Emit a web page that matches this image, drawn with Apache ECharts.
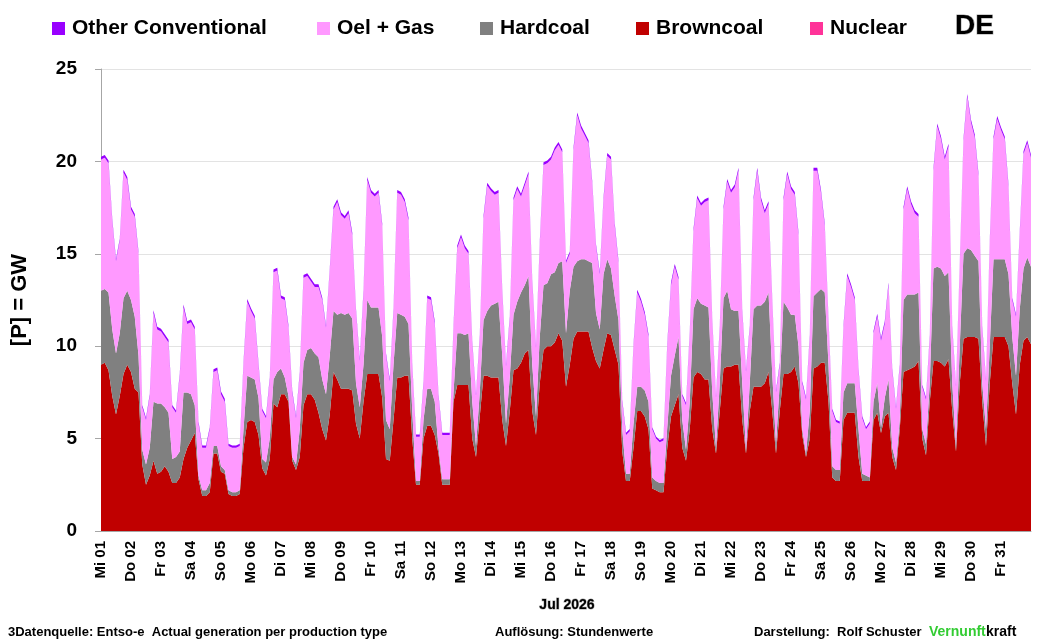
<!DOCTYPE html>
<html>
<head>
<meta charset="utf-8">
<script src="https://cdn.jsdelivr.net/npm/echarts@6/dist/echarts.min.js"></script>
<style>
  html, body { margin: 0; padding: 0; background: #fff; }
  #chart { width: 1046px; height: 640px; }
</style>
</head>
<body>
<div id="chart"></div>
<script>
// Stromerzeugung DE, Juli 2026 - Werte alle 3 Stunden (letzter Wert 31.07. 23:00), GW
const dayLabels = ['Mi 01','Do 02','Fr 03','Sa 04','So 05','Mo 06','Di 07','Mi 08','Do 09','Fr 10',
  'Sa 11','So 12','Mo 13','Di 14','Mi 15','Do 16','Fr 17','Sa 18','So 19','Mo 20','Di 21',
  'Mi 22','Do 23','Fr 24','Sa 25','So 26','Mo 27','Di 28','Mi 29','Do 30','Fr 31'];
const yTicks = [0, 5, 10, 15, 20, 25];
const stepsPerDay = 8;

const brownCoal = [
  9.0, 9.1, 8.7, 7.3, 6.3, 7.3, 8.5, 9.0,
  8.6, 7.7, 7.5, 3.6, 2.5, 3.0, 3.8, 3.1,
  3.2, 3.5, 3.2, 2.6, 2.6, 2.9, 3.9, 4.5,
  4.9, 5.3, 2.8, 1.9, 1.9, 2.1, 4.2, 4.2,
  3.2, 3.1, 2.0, 1.9, 1.9, 2.0, 4.5, 5.9,
  6.0, 5.9, 5.2, 3.4, 3.0, 3.9, 6.9, 6.7,
  7.4, 7.4, 7.0, 3.8, 3.3, 4.0, 6.8, 7.4,
  7.4, 7.1, 6.4, 5.5, 4.9, 6.3, 8.6, 8.2,
  7.7, 7.7, 7.7, 7.6, 5.8, 5.0, 7.0, 8.5,
  8.5, 8.5, 8.5, 7.2, 3.9, 3.8, 6.0, 8.3,
  8.3, 8.4, 8.4, 5.0, 2.5, 2.5, 5.0, 5.7,
  5.7, 5.2, 4.2, 2.5, 2.5, 2.5, 7.0, 7.9,
  7.9, 7.9, 7.9, 5.0, 4.0, 6.2, 8.4, 8.4,
  8.3, 8.3, 8.3, 6.0, 4.6, 6.5, 8.7, 8.8,
  9.1, 9.6, 9.8, 6.5, 5.2, 8.0, 9.8, 10.0,
  10.0, 10.2, 10.7, 10.3, 7.8, 9.0, 10.4, 10.8,
  10.8, 10.8, 10.8, 9.9, 9.2, 8.8, 9.8, 10.7,
  10.6, 9.8, 9.0, 4.3, 2.7, 2.7, 4.5, 6.5,
  6.5, 6.2, 5.5, 2.3, 2.2, 2.1, 2.1, 4.5,
  6.2, 6.8, 7.4, 4.5, 3.8, 5.5, 8.3, 8.6,
  8.5, 8.2, 8.2, 5.5, 4.2, 6.5, 8.8, 8.9,
  8.9, 9.0, 9.0, 6.0, 4.2, 6.5, 7.8, 7.8,
  7.8, 8.0, 8.6, 6.5, 4.2, 6.5, 8.5, 8.5,
  8.6, 8.9, 8.0, 5.2, 4.0, 5.0, 8.8, 8.9,
  9.1, 9.1, 7.0, 2.9, 2.7, 2.7, 6.0, 6.4,
  6.4, 6.4, 4.0, 2.7, 2.7, 2.7, 6.0, 6.4,
  5.3, 6.2, 6.4, 4.0, 3.3, 5.5, 8.6, 8.7,
  8.8, 8.9, 9.2, 5.0, 4.1, 7.0, 9.2, 9.2,
  9.1, 8.9, 9.3, 6.5, 4.3, 8.0, 10.4, 10.5,
  10.5, 10.5, 10.4, 7.0, 4.6, 8.0, 10.5, 10.5,
  10.5, 10.5, 10.0, 8.0, 6.3, 9.0, 10.3, 10.5, 10.1
];

const hardCoal = [
  4.0, 4.0, 4.2, 3.6, 3.3, 3.4, 4.1, 4.0,
  3.9, 3.9, 2.0, 0.8, 1.1, 1.5, 3.2, 3.8,
  3.7, 3.2, 3.2, 1.3, 1.4, 1.4, 3.6, 3.0,
  2.5, 1.5, 0.2, 0.3, 0.3, 0.5, 0.4, 0.4,
  0.3, 0.2, 0.2, 0.2, 0.2, 0.2, 1.0, 2.5,
  2.3, 2.3, 2.0, 0.5, 0.7, 1.1, 1.3, 1.9,
  1.4, 0.9, 0.3, 0.2, 0.3, 1.5, 2.3, 2.4,
  2.5, 2.5, 3.0, 2.7, 2.5, 3.2, 3.3, 3.5,
  4.1, 4.0, 4.1, 3.9, 2.2, 1.7, 2.0, 4.0,
  3.6, 3.6, 3.6, 3.3, 2.1, 1.7, 3.0, 3.5,
  3.4, 3.2, 2.8, 1.5, 0.2, 0.2, 1.0, 2.0,
  2.0, 1.8, 0.3, 0.3, 0.3, 0.3, 0.5, 2.8,
  2.8, 2.7, 2.8, 2.0, 0.6, 1.3, 3.0, 3.5,
  3.9, 4.0, 4.1, 3.5, 1.2, 1.8, 3.0, 3.6,
  3.8, 3.7, 4.0, 2.5, 1.0, 2.5, 3.5, 3.4,
  3.9, 3.8, 3.8, 4.3, 2.9, 4.0, 3.9, 3.8,
  3.9, 3.9, 3.8, 4.6, 2.6, 2.1, 4.1, 4.0,
  3.6, 2.9, 2.4, 1.2, 0.4, 0.4, 1.3, 1.3,
  1.3, 1.4, 1.5, 0.6, 0.5, 0.5, 0.5, 1.1,
  2.2, 2.7, 3.1, 1.5, 0.6, 1.5, 3.7, 4.0,
  3.8, 4.0, 3.9, 2.0, 0.3, 1.5, 3.8, 4.1,
  3.1, 2.9, 2.9, 2.0, 0.2, 1.5, 4.2, 4.4,
  4.4, 4.4, 4.3, 2.0, 0.5, 1.5, 3.9, 3.6,
  3.1, 2.8, 2.0, 0.3, 0.2, 1.5, 3.9, 4.0,
  4.0, 3.8, 2.0, 0.6, 0.6, 0.6, 1.5, 1.6,
  1.6, 1.6, 1.5, 0.4, 0.3, 0.2, 1.0, 1.6,
  0.3, 1.0, 1.8, 0.5, 0.4, 0.5, 3.9, 4.1,
  4.0, 3.9, 3.7, 0.5, 0.6, 1.0, 5.0, 5.1,
  5.1, 4.9, 4.7, 1.5, 0.3, 2.0, 4.6, 4.8,
  4.7, 4.4, 4.2, 1.0, 0.9, 2.0, 4.2, 4.2,
  4.2, 4.2, 3.9, 2.5, 2.1, 3.0, 3.9, 4.3, 4.2
];

const oilGas = [
  7.1, 7.1, 7.0, 5.9, 5.0, 5.0, 6.8, 6.0,
  4.9, 5.4, 5.5, 2.3, 2.4, 2.8, 4.8, 4.0,
  3.9, 3.8, 3.8, 2.8, 2.4, 4.1, 4.6, 3.7,
  3.9, 4.1, 2.8, 2.3, 2.3, 2.9, 4.0, 4.1,
  3.9, 3.7, 2.4, 2.4, 2.4, 2.4, 3.5, 4.0,
  3.6, 3.3, 1.8, 2.6, 2.4, 3.2, 5.8, 5.5,
  3.8, 4.2, 3.7, 3.5, 2.5, 3.0, 4.6, 4.0,
  3.6, 3.6, 3.8, 4.3, 3.6, 4.6, 5.5, 6.1,
  5.3, 5.2, 5.4, 4.5, 3.9, 2.5, 3.9, 6.5,
  6.2, 6.0, 6.2, 6.0, 3.5, 2.6, 2.9, 6.5,
  6.5, 6.2, 5.6, 2.5, 2.4, 2.4, 2.0, 4.9,
  4.8, 4.2, 2.8, 2.4, 2.4, 2.4, 3.5, 4.6,
  5.2, 4.7, 4.3, 3.2, 2.7, 3.0, 5.5, 6.8,
  6.2, 5.9, 5.9, 3.5, 3.1, 3.2, 6.2, 6.1,
  5.2, 5.4, 5.5, 4.5, 3.7, 5.0, 6.5, 6.5,
  6.2, 6.6, 6.4, 5.9, 3.8, 2.0, 6.3, 7.9,
  7.1, 6.7, 6.4, 4.3, 3.6, 3.0, 4.0, 5.6,
  5.9, 3.8, 3.1, 1.5, 2.1, 2.3, 4.2, 5.1,
  4.6, 4.1, 3.5, 2.6, 2.3, 2.2, 2.3, 4.4,
  4.9, 4.8, 3.1, 1.3, 2.4, 3.7, 4.2, 5.4,
  5.3, 5.6, 5.8, 3.9, 2.7, 3.0, 4.8, 5.9,
  6.3, 6.7, 7.6, 3.9, 4.2, 3.0, 5.9, 7.3,
  5.7, 4.8, 4.8, 4.0, 2.8, 1.0, 5.5, 7.2,
  6.8, 6.5, 6.0, 2.5, 2.9, 4.0, 6.8, 6.6,
  5.2, 3.6, 2.4, 3.0, 2.6, 2.5, 3.5, 5.8,
  5.2, 4.5, 3.2, 3.0, 2.5, 2.9, 3.7, 3.6,
  4.7, 4.0, 5.1, 4.2, 2.9, 2.9, 4.9, 5.7,
  4.9, 4.4, 4.1, 2.3, 2.4, 2.5, 5.3, 7.6,
  7.0, 6.3, 6.8, 3.0, 3.2, 4.4, 6.1, 8.2,
  6.9, 6.4, 4.6, 3.0, 2.6, 5.6, 6.5, 7.6,
  7.0, 6.5, 4.7, 2.0, 3.2, 4.1, 6.2, 6.2, 5.9
];

const otherConv = [
  0.15, 0.15, 0.15, 0.12, 0.12, 0.12, 0.15, 0.15,
  0.15, 0.15, 0.12, 0.12, 0.12, 0.12, 0.15, 0.15,
  0.15, 0.15, 0.15, 0.12, 0.12, 0.12, 0.15, 0.15,
  0.15, 0.15, 0.12, 0.12, 0.12, 0.12, 0.15, 0.15,
  0.15, 0.15, 0.12, 0.12, 0.12, 0.12, 0.15, 0.15,
  0.15, 0.15, 0.12, 0.12, 0.12, 0.12, 0.15, 0.15,
  0.15, 0.15, 0.12, 0.12, 0.12, 0.12, 0.15, 0.15,
  0.15, 0.15, 0.15, 0.12, 0.12, 0.12, 0.15, 0.15,
  0.15, 0.15, 0.15, 0.15, 0.12, 0.12, 0.15, 0.15,
  0.15, 0.15, 0.15, 0.12, 0.12, 0.12, 0.15, 0.15,
  0.15, 0.15, 0.15, 0.12, 0.12, 0.12, 0.12, 0.15,
  0.15, 0.15, 0.12, 0.12, 0.12, 0.12, 0.15, 0.15,
  0.15, 0.15, 0.15, 0.12, 0.12, 0.12, 0.15, 0.15,
  0.15, 0.15, 0.15, 0.12, 0.12, 0.12, 0.15, 0.15,
  0.15, 0.15, 0.15, 0.12, 0.12, 0.15, 0.15, 0.15,
  0.15, 0.15, 0.15, 0.15, 0.12, 0.12, 0.15, 0.15,
  0.15, 0.15, 0.15, 0.12, 0.12, 0.12, 0.15, 0.15,
  0.15, 0.15, 0.12, 0.12, 0.12, 0.12, 0.12, 0.15,
  0.15, 0.15, 0.15, 0.12, 0.12, 0.12, 0.12, 0.15,
  0.15, 0.15, 0.15, 0.12, 0.12, 0.12, 0.15, 0.15,
  0.15, 0.15, 0.15, 0.12, 0.12, 0.12, 0.15, 0.15,
  0.15, 0.15, 0.15, 0.12, 0.12, 0.12, 0.15, 0.15,
  0.15, 0.15, 0.15, 0.12, 0.12, 0.12, 0.15, 0.15,
  0.15, 0.15, 0.15, 0.12, 0.12, 0.12, 0.15, 0.15,
  0.15, 0.15, 0.12, 0.12, 0.12, 0.12, 0.15, 0.15,
  0.15, 0.15, 0.12, 0.12, 0.12, 0.12, 0.12, 0.15,
  0.15, 0.15, 0.15, 0.12, 0.12, 0.12, 0.15, 0.15,
  0.15, 0.15, 0.15, 0.12, 0.12, 0.12, 0.15, 0.15,
  0.15, 0.15, 0.15, 0.12, 0.12, 0.12, 0.15, 0.15,
  0.15, 0.15, 0.15, 0.12, 0.12, 0.15, 0.15, 0.15,
  0.15, 0.15, 0.15, 0.12, 0.12, 0.15, 0.15, 0.15, 0.15
];

const nuclear = [];

// eine Kategorie je Messwert (3h-Raster)
const steps = brownCoal.map((v, i) => String(i));

const colors = {
  other: '#9900ff',
  gas: '#ff99ff',
  hard: '#808080',
  brown: '#c00000',
  nuclear: '#ff3399'
};
const font = '"Liberation Sans", Arial, sans-serif';

const chart = echarts.init(document.getElementById('chart'), null, { renderer: 'canvas' });

function area(name, data, color) {
  return {
    name: name,
    type: 'line',
    stack: 'p',
    data: data,
    symbol: 'none',
    showSymbol: false,
    color: color,
    lineStyle: { width: 0, color: color },
    areaStyle: { color: color, opacity: 1 },
    emphasis: { disabled: true },
    animation: false
  };
}

// jede Legende einzeln platziert, wie im Original
const legendItems = [
  ['Other Conventional', 47],
  ['Oel + Gas', 312],
  ['Hardcoal', 475],
  ['Browncoal', 631],
  ['Nuclear', 805]
];

const option = {
  animation: false,
  backgroundColor: '#fff',
  textStyle: { fontFamily: font },
  legend: legendItems.map(([name, left]) => ({
    data: [name],
    left: left,
    top: 13,
    icon: 'rect',
    itemWidth: 13,
    itemHeight: 13,
    selectedMode: false,
    textStyle: { fontFamily: font, fontWeight: 'bold', fontSize: 21, color: '#000', padding: [2, 0, 0, 2] }
  })),
  grid: { left: 101, right: 15, top: 69, bottom: 109, containLabel: false },
  xAxis: {
    type: 'category',
    data: steps,
    boundaryGap: false,
    axisLine: { show: true, lineStyle: { color: '#a6a6a6', width: 1 } },
    axisTick: { show: false },
    splitLine: { show: false },
    axisLabel: {
      rotate: 90,
      margin: 10,
      interval: i => i % stepsPerDay === 0,
      fontFamily: font,
      fontWeight: 'bold',
      fontSize: 15,
      color: '#000',
      formatter: (v, i) => dayLabels[i / stepsPerDay] || ''
    }
  },
  yAxis: {
    type: 'value',
    min: yTicks[0],
    max: yTicks[yTicks.length - 1],
    interval: 5,
    name: '[P] = GW',
    nameLocation: 'middle',
    nameGap: 70,
    nameTextStyle: { fontFamily: font, fontWeight: 'bold', fontSize: 22, color: '#000' },
    axisLine: { show: true, lineStyle: { color: '#a6a6a6' } },
    axisTick: { show: true, length: 6, lineStyle: { color: '#a6a6a6' } },
    splitLine: { show: true, lineStyle: { color: '#e3e3e3', width: 1 } },
    axisLabel: { margin: 24, fontFamily: font, fontWeight: 'bold', fontSize: 19, color: '#000' }
  },
  series: [
    area('Browncoal', brownCoal, colors.brown),
    area('Hardcoal', hardCoal, colors.hard),
    area('Oel + Gas', oilGas, colors.gas),
    area('Other Conventional', otherConv, colors.other),
    area('Nuclear', nuclear, colors.nuclear)
  ],
  graphic: [
    { type: 'text', x: 955, y: 26,
      style: { text: 'DE', font: 'bold 28px ' + font, fill: '#000', textVerticalAlign: 'middle' } },
    { type: 'text', x: 567, y: 605,
      style: { text: 'Jul 2026', font: 'bold 14px ' + font, fill: '#000', textAlign: 'center', textVerticalAlign: 'middle' } },
    { type: 'text', x: 8, y: 632,
      style: { text: '3Datenquelle: Entso-e  Actual generation per production type', font: 'bold 13px ' + font, fill: '#000', textVerticalAlign: 'middle' } },
    { type: 'text', x: 495, y: 632,
      style: { text: 'Auflösung: Stundenwerte', font: 'bold 13px ' + font, fill: '#000', textVerticalAlign: 'middle' } },
    { type: 'text', x: 754, y: 632,
      style: { text: 'Darstellung:  Rolf Schuster', font: 'bold 13px ' + font, fill: '#000', textVerticalAlign: 'middle' } },
    { type: 'text', x: 929, y: 632,
      style: { text: 'Vernunft', font: 'bold 14px ' + font, fill: '#33cc33', textVerticalAlign: 'middle' } },
    { type: 'text', x: 986, y: 632,
      style: { text: 'kraft', font: 'bold 14px ' + font, fill: '#000', textVerticalAlign: 'middle' } }
  ]
};

chart.setOption(option);

// Trennlinien der Kategorieachse wie im Original (links lang, rechts kurz)
const p0 = chart.convertToPixel({ gridIndex: 0 }, [0, 0]);
const p1 = chart.convertToPixel({ gridIndex: 0 }, [steps.length - 1, 0]);
chart.setOption({
  graphic: [
    { type: 'line', shape: { x1: p0[0], y1: p0[1], x2: p0[0], y2: p0[1] + 84 },
      style: { stroke: '#a6a6a6', lineWidth: 1 } },
    { type: 'line', shape: { x1: p1[0], y1: p1[1], x2: p1[0], y2: p1[1] + 14 },
      style: { stroke: '#a6a6a6', lineWidth: 1 } }
  ]
});
</script>
</body>
</html>
